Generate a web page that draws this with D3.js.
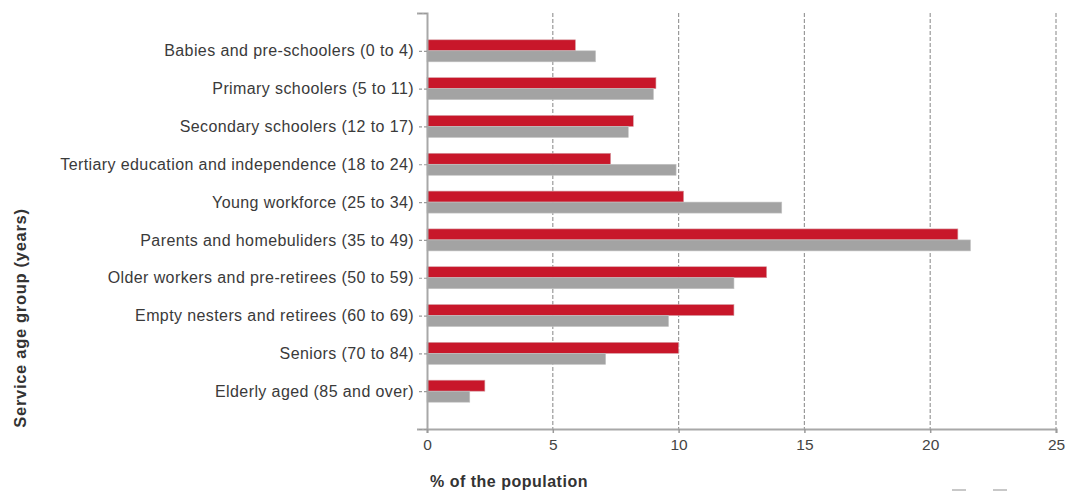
<!DOCTYPE html>
<html>
<head>
<meta charset="utf-8">
<script src="https://cdn.jsdelivr.net/npm/d3@7"></script>
<style>
  html, body { margin: 0; padding: 0; background: #fff; }
  svg { display: block; }
  text { font-family: "Liberation Sans", Arial, sans-serif; }
</style>
</head>
<body>
<svg id="chart" width="1070" height="491"></svg>
<script>
const categories = [
  "Babies and pre-schoolers (0 to 4)",
  "Primary schoolers (5 to 11)",
  "Secondary schoolers (12 to 17)",
  "Tertiary education and independence (18 to 24)",
  "Young workforce (25 to 34)",
  "Parents and homebuliders (35 to 49)",
  "Older workers and pre-retirees (50 to 59)",
  "Empty nesters and retirees (60 to 69)",
  "Seniors (70 to 84)",
  "Elderly aged (85 and over)"
];
const seriesRed = [5.9, 9.1, 8.2, 7.3, 10.2, 21.1, 13.5, 12.2, 10.0, 2.3];
const seriesGray = [6.7, 9.0, 8.0, 9.9, 14.1, 21.6, 12.2, 9.6, 7.1, 1.7];
const xTicks = [0, 5, 10, 15, 20, 25];
const xTitle = "% of the population";
const yTitle = "Service age group (years)";

(function () {
const svg = d3.select("#chart");
const pLeft = 427, pRight = 1056, pTop = 13, pBottom = 429;

const x = d3.scaleLinear().domain([0, 25]).range([pLeft, pRight]);
// point scale with empty slots at both ends (ticks at top and bottom)
const slots = ["__top"].concat(categories, ["__bottom"]);
const y = d3.scalePoint().domain(slots).range([pTop, pBottom]);
const barH = 11;

// grid lines
svg.append("g").selectAll("line")
  .data(xTicks.filter(d => d > 0))
  .join("line")
  .attr("x1", d => x(d)).attr("x2", d => x(d))
  .attr("y1", pTop).attr("y2", pBottom)
  .attr("stroke", "#9a9a9a").attr("stroke-width", 1.2)
  .attr("stroke-dasharray", "4,2");

// bars
const g = svg.append("g");
g.selectAll("rect.red").data(categories).join("rect")
  .attr("class", "red")
  .attr("x", x(0))
  .attr("y", d => y(d) - barH)
  .attr("width", (d, i) => x(seriesRed[i]) - x(0))
  .attr("height", barH)
  .attr("fill", "#c8172a")
  .attr("stroke", "#d6a0a6").attr("stroke-width", 0.6);
g.selectAll("rect.gray").data(categories).join("rect")
  .attr("class", "gray")
  .attr("x", x(0))
  .attr("y", d => y(d))
  .attr("width", (d, i) => x(seriesGray[i]) - x(0))
  .attr("height", barH)
  .attr("fill", "#a3a3a3")
  .attr("stroke", "#c4c4c4").attr("stroke-width", 0.6);

// y axis
const yAxis = d3.axisLeft(y).tickSize(10).tickPadding(3)
  .tickFormat(d => d.startsWith("__") ? "" : d);
const yg = svg.append("g").attr("transform", `translate(${pLeft},0)`).call(yAxis);
yg.select(".domain").attr("stroke", "#a8a8a8").attr("stroke-width", 2);
yg.selectAll(".tick line").attr("stroke", "#9a9a9a").attr("stroke-dasharray", "3,2").attr("stroke-width", 1.2);
yg.selectAll(".tick text").attr("font-size", 16).attr("fill", "#3a3a3a")
  .attr("font-family", "'Liberation Sans', Arial, sans-serif").attr("letter-spacing", "0.4");

// x axis
const xAxis = d3.axisBottom(x).tickValues(xTicks).tickSize(4).tickPadding(6).tickFormat(d3.format("d"));
const xg = svg.append("g").attr("transform", `translate(0,${pBottom})`).call(xAxis);
xg.select(".domain").attr("stroke", "#a8a8a8").attr("stroke-width", 2);
xg.selectAll(".tick line").attr("stroke", "#9a9a9a").attr("stroke-width", 1.5);
xg.selectAll(".tick text").attr("font-size", 15.5).attr("fill", "#444")
  .attr("font-family", "'Liberation Sans', Arial, sans-serif");

// titles
svg.append("text")
  .attr("x", 430).attr("y", 487)
  .attr("font-size", 16).attr("font-weight", "bold").attr("fill", "#333")
  .attr("letter-spacing", "0.5")
  .text(xTitle);

svg.append("text")
  .attr("transform", "translate(26,318) rotate(-90)")
  .attr("text-anchor", "middle")
  .attr("font-size", 16.5).attr("font-weight", "bold").attr("fill", "#333")
  .attr("letter-spacing", "0.7")
  .text(yTitle);

// cut-off legend markers at bottom edge
svg.append("g").selectAll("rect").data(["#c8c8c8", "#c8c8c8"]).join("rect")
  .attr("x", (d, i) => 952 + i * 41).attr("y", 489)
  .attr("width", 14).attr("height", 2)
  .attr("fill", d => d);
})();
</script>
</body>
</html>
